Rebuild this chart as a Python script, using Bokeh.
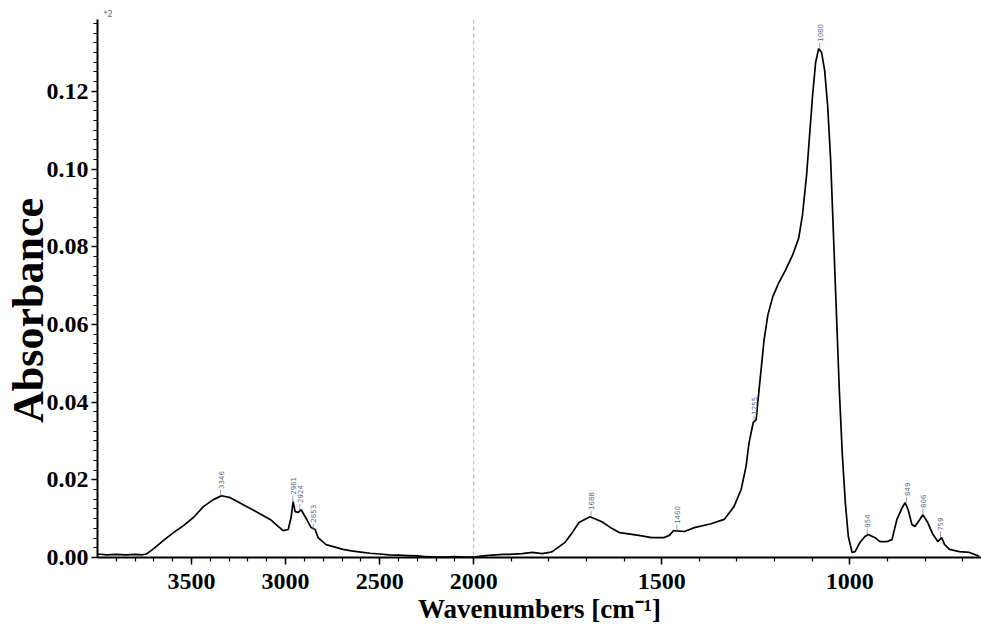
import math
from bokeh.plotting import figure
from bokeh.models import FixedTicker, Span, Range1d, PrintfTickFormatter, ColumnDataSource
from bokeh.core.properties import value
from bokeh.embed import file_html
from bokeh.resources import INLINE

# ---- data ----
wavenumber = [4000, 3950, 3900, 3850, 3800, 3760, 3740, 3701, 3649, 3596, 3543, 3490,
              3437, 3384, 3341, 3294, 3225, 3156, 3082, 3039, 3013, 2986, 2970, 2960,
              2949, 2933, 2917, 2896, 2864, 2843, 2827, 2785, 2732, 2695, 2650, 2600,
              2550, 2500, 2450, 2400, 2350, 2300, 2250, 2200, 2150, 2100, 2050, 2000,
              1968, 1923, 1905, 1871, 1844, 1818, 1799, 1791, 1757, 1738, 1720, 1691,
              1659, 1633, 1612, 1561, 1527, 1495, 1480, 1469, 1440, 1413, 1369, 1334,
              1308, 1289, 1276, 1268, 1257, 1249, 1244, 1236, 1228, 1218, 1205, 1189,
              1171, 1152, 1136, 1126, 1115, 1107, 1099, 1091, 1083, 1075, 1067, 1059,
              1051, 1044, 1036, 1028, 1020, 1012, 1004, 994, 986, 973, 960, 951,
              933, 920, 901, 888, 875, 861, 853, 845, 835, 827, 814, 806,
              793, 779, 766, 756, 748, 735, 709, 682, 656]
absorbance = [0.0009, 0.0007, 0.0008, 0.0007, 0.0008, 0.0007, 0.0009, 0.0023, 0.0044, 0.0064, 0.0082, 0.0103,
              0.0131, 0.0149, 0.0159, 0.0154, 0.0136, 0.0118, 0.0098, 0.0080, 0.0069, 0.0072, 0.0105, 0.0144,
              0.0118, 0.0116, 0.0123, 0.0105, 0.0077, 0.0072, 0.0051, 0.0033, 0.0026, 0.0021, 0.0017, 0.0014,
              0.0011, 0.0009, 0.0007, 0.0006, 0.0005, 0.0004, 0.0002, 0.0001, 0.0001, 0.0002, 0.0001, 0.0001,
              0.0005, 0.0008, 0.0008, 0.0010, 0.0013, 0.0010, 0.0013, 0.0015, 0.0039, 0.0064, 0.0090, 0.0105,
              0.0092, 0.0075, 0.0064, 0.0057, 0.0051, 0.0051, 0.0057, 0.0069, 0.0067, 0.0077, 0.0087, 0.0098,
              0.0131, 0.0175, 0.0234, 0.0295, 0.0347, 0.0355, 0.0406, 0.0483, 0.0560, 0.0624, 0.0671, 0.0707,
              0.0740, 0.0779, 0.0822, 0.0881, 0.0984, 0.1087, 0.1190, 0.1274, 0.1310, 0.1300, 0.1254, 0.1164,
              0.1023, 0.0843, 0.0637, 0.0432, 0.0265, 0.0141, 0.0054, 0.0013, 0.0015, 0.0039, 0.0054, 0.0059,
              0.0051, 0.0041, 0.0041, 0.0046, 0.0098, 0.0128, 0.0141, 0.0123, 0.0085, 0.0080, 0.0098, 0.0110,
              0.0090, 0.0059, 0.0041, 0.0051, 0.0033, 0.0021, 0.0015, 0.0013, 0.0003]

peak_wn = [3346, 2961, 2924, 2853, 1688, 1460, 1255, 1080, 954, 849, 806, 759]
peak_abs = [0.0159, 0.0144, 0.0123, 0.0072, 0.0105, 0.0069, 0.0350, 0.1310, 0.0059, 0.0141, 0.0110, 0.0051]
peak_text = [str(w) for w in peak_wn]

x_major = [3500, 3000, 2500, 2000, 1500, 1000]
x_minor = list(range(3900, 600, -100))
y_major = [0.00, 0.02, 0.04, 0.06, 0.08, 0.10, 0.12]
y_minor = [i * 0.0025 for i in range(0, 56)]

# trailing no-break spaces nudge the centred vertical title down, as in the reference
y_title = "Absorbance" + "\u00a0" * 4
x_title = "Wavenumbers [cm\u207b\u00b9]"
scale_note = "*2"

# OMNIC-style split axis: scale doubles below 2000 cm-1
def to_u(w):
    return (4000 - w) if w >= 2000 else 2000 + 2 * (2000 - w)

FONT = "Liberation Serif"

p = figure(width=981, height=626, output_backend="svg", toolbar_location=None,
           x_range=Range1d(0, 4700), y_range=Range1d(0, 0.1385),
           min_border_left=94, min_border_right=0, min_border_top=19, min_border_bottom=68)
p.outline_line_color = None
p.grid.visible = False

p.title.text = scale_note
p.title.align = "left"
p.title.offset = 6
p.title.standoff = 2
p.title.text_font = "DejaVu Sans"
p.title.text_font_size = "8px"
p.title.text_font_style = "normal"
p.title.text_color = "#5b6b8c"

p.xaxis.ticker = FixedTicker(ticks=[to_u(w) for w in x_major], minor_ticks=[to_u(w) for w in x_minor])
p.xaxis.major_label_overrides = {to_u(w): str(w) for w in x_major}
p.yaxis.ticker = FixedTicker(ticks=y_major, minor_ticks=y_minor)
p.yaxis.formatter = PrintfTickFormatter(format="%.2f")
for ax in (p.xaxis, p.yaxis):
    ax.axis_line_color = "black"
    ax.axis_line_width = 2
    ax.major_tick_line_color = "black"
    ax.minor_tick_line_color = "black"
    ax.major_tick_line_width = 1.5
    ax.minor_tick_line_width = 1.2
    ax.major_tick_in = 0
    ax.minor_tick_in = 0
    ax.major_tick_out = 6
    ax.minor_tick_out = 4
    ax.major_label_text_font = FONT
    ax.major_label_text_font_style = "bold"
    ax.major_label_text_font_size = "24px"
    ax.major_label_text_color = "black"
    ax.axis_label_text_font = FONT
    ax.axis_label_text_font_style = "bold"
    ax.axis_label_text_color = "black"
p.xaxis.major_tick_out = 7
p.xaxis.major_label_standoff = 9
p.yaxis.major_label_standoff = 3
p.xaxis.axis_label = x_title
p.xaxis.axis_label_standoff = 2
p.xaxis.axis_label_text_font_size = "27px"
p.yaxis.axis_label = y_title
p.yaxis.axis_label_standoff = -9
p.yaxis.axis_label_text_font_size = "44px"

# 2000 cm-1 scale break
p.add_layout(Span(location=to_u(2000), dimension="height", line_color="#bbbbbb",
                  line_dash="4 3", line_width=1))

# spectrum
src = ColumnDataSource(dict(u=[to_u(w) for w in wavenumber], a=absorbance))
p.line("u", "a", source=src, line_color="black", line_width=1.7)

# peak labels
pk = ColumnDataSource(dict(u=[to_u(w) for w in peak_wn], a=peak_abs,
                           a2=[a + 0.0015 for a in peak_abs], t=peak_text))
p.segment(x0="u", y0="a", x1="u", y1="a2", source=pk, line_color="#7a8aa8", line_width=0.8)
p.text(x="u", y="a2", text="t", source=pk, angle=math.pi / 2, text_align="left",
       text_baseline="middle", text_font=value("DejaVu Sans"), text_font_size="7px",
       text_color="#5b6b8c", y_offset=-1)

open("out.html", "w").write(file_html(p, INLINE))
